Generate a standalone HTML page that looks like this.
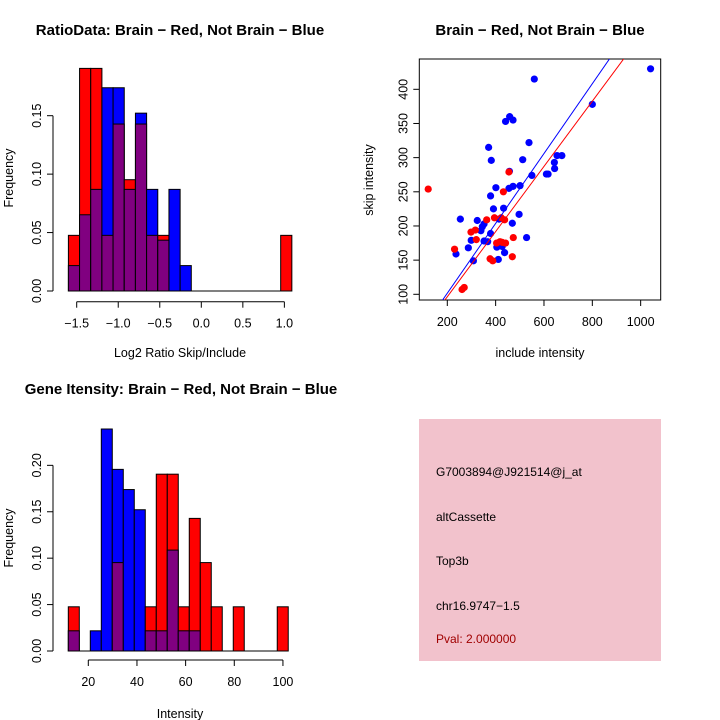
<!DOCTYPE html>
<html><head><meta charset="utf-8"><style>
body{margin:0;background:#fff}
svg{display:block;font-family:"Liberation Sans",sans-serif}
</style></head><body>
<svg id="c" width="720" height="720" viewBox="0 0 720 720">
<rect width="720" height="720" fill="#fff"/>
<g id="p1"></g>
<g id="p2"></g>
<g id="p3"></g>
<g>
<rect x="419" y="419" width="242" height="242" fill="#f2c2cc"/>
<text x="436" y="476" font-size="12">G7003894@J921514@j_at</text>
<text x="436" y="521" font-size="12">altCassette</text>
<text x="436" y="565" font-size="12">Top3b</text>
<text x="436" y="610" font-size="12">chr16.9747−1.5</text>
<text x="436" y="643" font-size="12" fill="#a00000">Pval: 2.000000</text>
</g>
</svg>
<script>
// ---- Ratio histogram data ----
const ratioBinStart = -1.6;
const ratioBinWidth = 0.1345;
const ratioRed = [1,4,4,1,3,2,3,1,1,0,0,0,0,0,0,0,0,0,0,1];
const ratioBlue = [1,3,4,8,8,4,7,4,2,4,1,0,0,0,0,0,0,0,0,0];
const ratioRedTotal = 21, ratioBlueTotal = 46;
const ratioXTicks = [-1.5,-1.0,-0.5,0.0,0.5,1.0];
const ratioXTickLabels = ["−1.5","−1.0","−0.5","0.0","0.5","1.0"];
const ratioYTicks = [0,0.05,0.10,0.15];
const ratioYTickLabels = ["0.00","0.05","0.10","0.15"];
// ---- Gene intensity histogram data ----
const intBinStart = 11.78;
const intBinWidth = 4.52;
const intRed = [1,0,0,0,2,0,0,1,4,4,1,3,2,1,0,1,0,0,0,1];
const intBlue = [1,0,1,11,9,8,7,1,1,5,1,1,0,0,0,0,0,0,0,0];
const intXTicks = [20,40,60,80,100];
const intYTicks = [0,0.05,0.10,0.15,0.20];
const intYTickLabels = ["0.00","0.05","0.10","0.15","0.20"];
// ---- Scatter data ----
const blueX = [1041,560,800,458,441,472,371,538,382,512,654,674,643,644,457,550,610,617,401,455,472,501,379,391,433,497,254,324,414,469,352,345,339,379,528,299,352,367,405,427,287,437,411,308,236];
const blueY = [430,415,378,360,353,355,315,322,296,297,303,303,293,284,280,274,276,276,256,255,258,259,244,225,226,217,210,208,210,204,203,199,193,189,183,179,178,177,169,170,168,161,151,149,159];
const redX = [121,432,437,395,363,316,298,418,441,473,469,377,388,230,270,261,423,320,455,427,404];
const redY = [254,250,209,212,209,194,191,177,175,183,155,152,149,166,110,107,212,180,279,176,175];
const fitSlope = [0.511,0.477];   // blue, red
const fitIntercept = [-0.6,1.0];
const fitColor = ["#0000ff","#ff0000"];
const scXTicks = [200,400,600,800,1000];
const scYTicks = [100,150,200,250,300,350,400];

const NS="http://www.w3.org/2000/svg";
function mk(parent,tag,attrs,text){const e=document.createElementNS(NS,tag);for(const k in attrs)e.setAttribute(k,attrs[k]);if(text!==undefined)e.textContent=text;parent.appendChild(e);return e;}

function histogram(g,o){
  const sx=v=>o.px0+(v-o.v0)*o.kx;
  const sy=v=>o.base-v*o.ky;
  for(let i=0;i<o.red.length;i++){
    const r=o.red[i]/o.rt,b=o.blue[i]/o.bt;
    const x0=sx(o.binStart+i*o.binW),x1=sx(o.binStart+(i+1)*o.binW);
    const hi=Math.max(r,b),lo=Math.min(r,b);
    if(hi>0){
      const e=mk(g,'rect',{x:x0,y:sy(hi),width:x1-x0,height:sy(0)-sy(hi),fill:r>=b?'#ff0000':'#0000ff',stroke:'#000','stroke-width':1});
      
      
    }
    if(lo>0){
      const e=mk(g,'rect',{x:x0,y:sy(lo),width:x1-x0,height:sy(0)-sy(lo),fill:'#800080',stroke:'#000','stroke-width':1});
      
      
    }
  }
  mk(g,'line',{x1:sx(o.binStart),x2:sx(o.binStart+o.red.length*o.binW),y1:o.base,y2:o.base,stroke:'#000'});
  const xa=mk(g,'g',{});
  
  
  mk(xa,'line',{x1:sx(o.xt[0]),x2:sx(o.xt[o.xt.length-1]),y1:o.xaxY,y2:o.xaxY,stroke:'#000'});
  o.xt.forEach((t,i)=>{mk(xa,'line',{x1:sx(t),x2:sx(t),y1:o.xaxY,y2:o.xaxY+6,stroke:'#000'});
    const l=mk(xa,'text',{x:sx(t),y:o.xaxY+26,'font-size':12.5,'text-anchor':'middle'},o.xl[i]);
    
    });
  const ya=mk(g,'g',{});
  
  
  mk(ya,'line',{x1:o.yaxX,x2:o.yaxX,y1:sy(o.yt[0]),y2:sy(o.yt[o.yt.length-1]),stroke:'#000'});
  o.yt.forEach((t,i)=>{mk(ya,'line',{x1:o.yaxX-6,x2:o.yaxX,y1:sy(t),y2:sy(t),stroke:'#000'});
    const l=mk(ya,'text',{x:0,y:0,'font-size':12.5,'text-anchor':'middle',transform:`translate(${o.yaxX-12},${sy(t)}) rotate(-90)`},o.yl[i]);
    
    });
  const t=mk(g,'text',{x:o.titleX,y:o.titleY,'font-size':15,'font-weight':'bold','text-anchor':'middle'},o.title);
  
  
  const xl=mk(g,'text',{x:o.xlabX,y:o.xlabY,'font-size':12.5,'text-anchor':'middle'},o.xlab);
  
  
  const yl=mk(g,'text',{x:0,y:0,'font-size':12.5,'text-anchor':'middle',transform:`translate(13,${o.ylabY}) rotate(-90)`},'Frequency');
  
  
}

histogram(document.getElementById('p1'),{px0:76.7,v0:-1.5,kx:83.07,base:291,ky:1168.7,
  red:ratioRed,blue:ratioBlue,rt:ratioRedTotal,bt:ratioBlueTotal,binStart:ratioBinStart,binW:ratioBinWidth,
  xt:ratioXTicks,xl:ratioXTickLabels,yt:ratioYTicks,yl:ratioYTickLabels,xaxY:301.7,yaxX:53,
  title:'RatioData: Brain − Red, Not Brain − Blue',titleX:180,titleY:35,xlab:'Log2 Ratio Skip/Include',xlabX:180,xlabY:357,ylabY:178});

histogram(document.getElementById('p3'),{px0:88.3,v0:20,kx:2.433,base:651,ky:928.3,
  red:intRed,blue:intBlue,rt:ratioRedTotal,bt:ratioBlueTotal,binStart:intBinStart,binW:intBinWidth,
  xt:intXTicks,xl:intXTicks.map(String),yt:intYTicks,yl:intYTickLabels,xaxY:660,yaxX:53,
  title:'Gene Itensity: Brain − Red, Not Brain − Blue',titleX:181,titleY:394,xlab:'Intensity',xlabX:180,xlabY:718,ylabY:538});

(function(){
  const g=document.getElementById('p2');
  const L=419.3,R=660.7,T=59,B=300;
  const sx=v=>447.3+(v-200)*0.2417, sy=v=>294.3-(v-100)*0.6833;
  mk(g,'defs',{}).innerHTML='<clipPath id="cl"><rect x="'+L+'" y="'+T+'" width="'+(R-L)+'" height="'+(B-T)+'"/></clipPath>';
  const box=mk(g,'rect',{x:L,y:T,width:R-L,height:B-T,fill:'none',stroke:'#000'});
  
  
  const pts=mk(g,'g',{});
  blueX.forEach((x,i)=>{const c=mk(pts,'circle',{cx:sx(x),cy:sy(blueY[i]),r:3.6,fill:'#0000ff'});
    
    });
  redX.forEach((x,i)=>{const c=mk(pts,'circle',{cx:sx(x),cy:sy(redY[i]),r:3.6,fill:'#ff0000'});
    
    });
  fitSlope.forEach((m,i)=>{const x0=100,x1=1100;
    const l=mk(g,'line',{x1:sx(x0),y1:sy(fitIntercept[i]+m*x0),x2:sx(x1),y2:sy(fitIntercept[i]+m*x1),stroke:fitColor[i],'stroke-width':1,'clip-path':'url(#cl)'});
    
    });
  scXTicks.forEach(t=>{mk(g,'line',{x1:sx(t),x2:sx(t),y1:B,y2:B+6,stroke:'#000'});
    const l=mk(g,'text',{x:sx(t),y:B+26,'font-size':12.5,'text-anchor':'middle'},String(t));
    
    });
  scYTicks.forEach(t=>{mk(g,'line',{x1:L-6,x2:L,y1:sy(t),y2:sy(t),stroke:'#000'});
    const l=mk(g,'text',{x:0,y:0,'font-size':12.5,'text-anchor':'middle',transform:`translate(${L-12},${sy(t)}) rotate(-90)`},String(t));
    
    });
  const t=mk(g,'text',{x:540,y:35,'font-size':15,'font-weight':'bold','text-anchor':'middle'},'Brain − Red, Not Brain − Blue');
  
  
  const xl=mk(g,'text',{x:540,y:357,'font-size':12.5,'text-anchor':'middle'},'include intensity');
  
  
  const yl=mk(g,'text',{x:0,y:0,'font-size':12.5,'text-anchor':'middle',transform:'translate(373,180) rotate(-90)'},'skip intensity');
  
  
})();
</script>
</body></html>
